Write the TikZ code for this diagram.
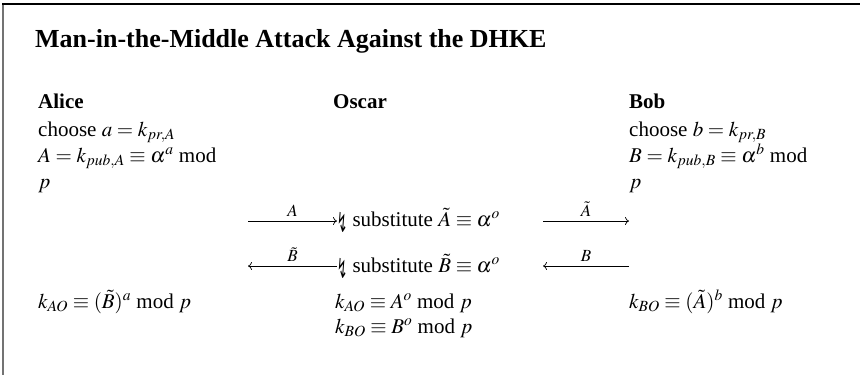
\documentclass[tikz,border=0pt]{standalone}
\usepackage{mathptmx}
\usepackage{fontspec}
\setmainfont{Liberation Serif}
\newfontfamily\boltfont{DejaVu Sans}
\usetikzlibrary{positioning, arrows.meta}

\newcommand{\bolt}{\raisebox{-6pt}{\scalebox{0.5}[1.15]{\boltfont\fontsize{24}{24}\selectfont ↯}}}

\begin{document}
\begin{tikzpicture}[x=1pt, y=-1pt,
	t/.style = {anchor=base west, inner sep=0pt, font=\fontsize{21}{25}\selectfont},
	h/.style = {t, font=\fontsize{21}{25}\selectfont\bfseries},
	r/.style = {-{To[length=4pt, width=8pt]}, line width=0.7pt},
	l/.style = {above=4pt, inner sep=0pt, font=\fontsize{17}{19}\selectfont}
	]
	\useasboundingbox (0,0) rectangle (860,375);
	
	%Frame
	\draw[black!55, line width=2pt]	(3,375)	--	(3,4);
	\draw[black, line width=1.5pt]	(2,4)	--	(860,4);
	
	%Nodes
	\node[t, font=\fontsize{26}{30}\selectfont\bfseries]	(title)	at	(35, 47)	{Man-in-the-Middle Attack Against the DHKE};
	
	\node[h]	(alice)	at	(38, 108)	{Alice};
	\node[h]	(oscar)	at	(333, 108)	{Oscar};
	\node[h]	(bob)	at	(629, 108)	{Bob};
	
	\node[t]	(A1)	at	(38, 136)	{choose $a = k_{pr,A}$};
	\node[t]	(A2)	at	(38, 162)	{$A = k_{pub,A} \equiv \alpha^a$ mod};
	\node[t]	(A3)	at	(38, 188)	{$p$};
	\node[t]	(B1)	at	(629, 136)	{choose $b = k_{pr,B}$};
	\node[t]	(B2)	at	(629, 162)	{$B = k_{pub,B} \equiv \alpha^b$ mod};
	\node[t]	(B3)	at	(629, 188)	{$p$};
	
	\node[t]	(s1)	at	(337, 226)	{\bolt\ substitute $\tilde{A} \equiv \alpha^o$};
	\node[t]	(s2)	at	(337, 272)	{\bolt\ substitute $\tilde{B} \equiv \alpha^o$};
	
	\node[t]	(A4)	at	(38, 308)	{$k_{AO} \equiv (\tilde{B})^a$ mod $p$};
	\node[t]	(O1)	at	(335, 308)	{$k_{AO} \equiv A^o$ mod $p$};
	\node[t]	(O2)	at	(335, 333)	{$k_{BO} \equiv B^o$ mod $p$};
	\node[t]	(B4)	at	(629, 308)	{$k_{BO} \equiv (\tilde{A})^b$ mod $p$};
	
	\coordinate	(a1)	at	(248, 221);
	\coordinate	(a2)	at	(248, 266);
	\coordinate	(b1)	at	(543, 221);
	\coordinate	(b2)	at	(543, 266);
	
	%Lines
	\draw[r]	(a1)	--	node[l]	{$A$}	(a1 -| s1.west);
	\draw[r]	(b1)	--	node[l]	{$\tilde{A}$}	(b1 -| bob.west);
	\draw[r]	(a2 -| s2.west)	--	node[l]	{$\tilde{B}$}	(a2);
	\draw[r]	(b2 -| bob.west)	--	node[l]	{$B$}	(b2);
\end{tikzpicture}
\end{document}
